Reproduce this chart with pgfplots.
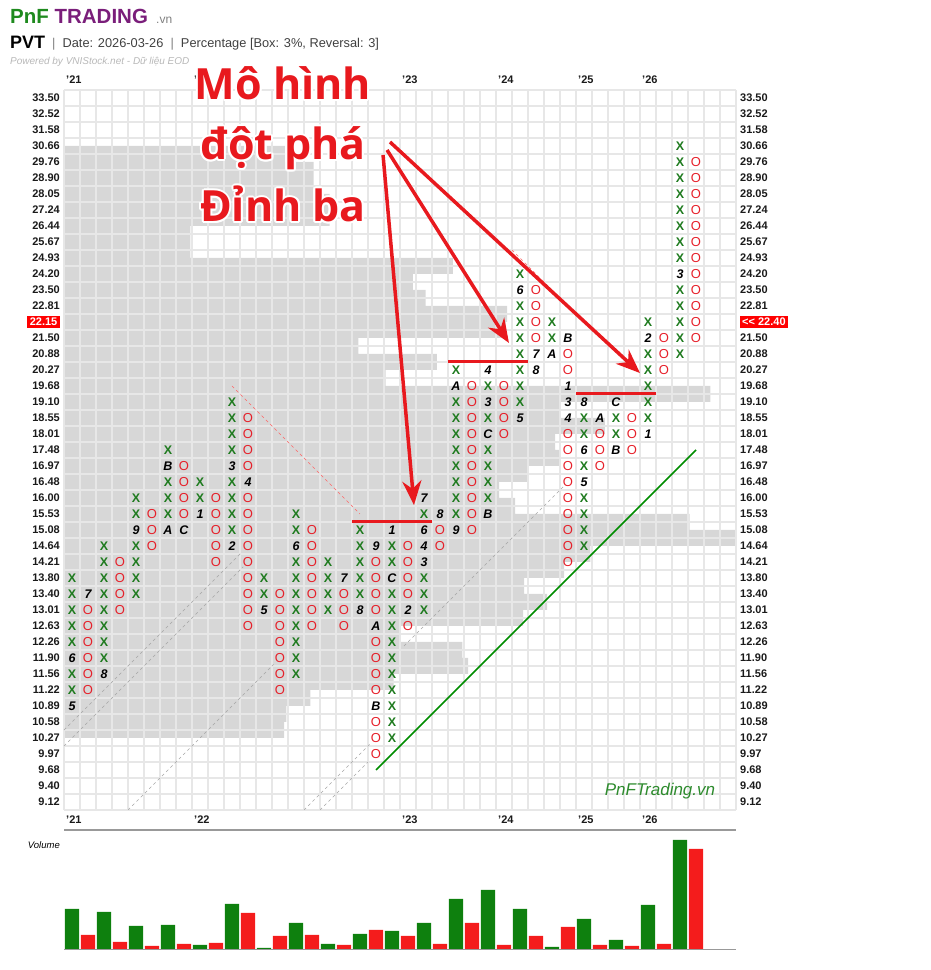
\documentclass[border=0pt]{standalone}
\usepackage{pgfplots}
\pgfplotsset{compat=1.18}
\usepackage{fontspec}
\setmainfont{Liberation Sans}
\newfontfamily\bigfont{Open Sans}
\usetikzlibrary{arrows.meta}
\definecolor{xgreen}{HTML}{1E7A1E}
\definecolor{ored}{HTML}{E6202A}
\definecolor{bandgray}{HTML}{D7D7D7}
\definecolor{gridgray}{HTML}{E7E7E7}
\definecolor{vgreen}{HTML}{0E800E}
\definecolor{vred}{HTML}{F41C1C}
\definecolor{brandgreen}{HTML}{1E8A1E}
\definecolor{brandpurple}{HTML}{7A1E7A}
\definecolor{arrowred}{HTML}{E8191E}
\definecolor{labeltext}{HTML}{1A1A1A}
\definecolor{wmgreen}{HTML}{2E8B2E}
\newcommand\lbl{\bfseries\fontsize{11}{12}\selectfont}
\newcommand\bigline[2]{%
  \foreach \a in {0,30,...,330}{\node[anchor=base,text=white,font=\bigfont\bfseries\fontsize{43}{43}\selectfont,shift={(\a:2pt)}] at (283pt,#1) {#2};}%
  \node[anchor=base,text=arrowred,font=\bigfont\bfseries\fontsize{43}{43}\selectfont] at (283pt,#1) {#2};}
\pgfplotsset{pnfaxis/.style={
  at={(72pt,168pt)}, anchor=origin, scale only axis,
  width=672pt, height=720pt,
  xmin=-0.5, xmax=41.5, ymin=-0.5, ymax=44.5}}
\begin{document}
\begin{tikzpicture}
\path[use as bounding box] (0pt,0pt) rectangle (930pt,970pt);
% header
\node[anchor=base west,inner sep=0pt,font=\bfseries\fontsize{20.5}{22}\selectfont] at (10pt,946pt) {\textcolor{brandgreen}{PnF} \textcolor{brandpurple}{TRADING}};
\node[anchor=base west,inner sep=0pt,font=\fontsize{12}{13}\selectfont,text=gray] at (156pt,946pt) {.vn};
\node[anchor=base west,inner sep=0pt,font=\bfseries\fontsize{18}{20}\selectfont] at (10pt,921pt) {PVT};
\node[anchor=base west,inner sep=0pt,font=\fontsize{12.8}{14}\selectfont,text=black!75] at (52pt,922pt) {\textcolor{gray}{|}\ \ Date: 2026-03-26\ \ \textcolor{gray}{|}\ \ Percentage [Box: 3\%, Reversal: 3]};
\node[anchor=base west,inner sep=0pt,font=\itshape\fontsize{10}{12}\selectfont,text=black!28] at (10pt,905pt) {Powered by VNIStock.net - Dữ liệu EOD};

% volume-at-price band (background)
\begin{axis}[pnfaxis, axis lines=none, xtick=\empty, ytick=\empty]
\addplot[fill=bandgray, draw=none] coordinates {
(-0.5,41)
(13.3,41)(13.3,40)
(15.1,40)(15.1,39)
(15.1,39)(15.1,38)
(16.1,38)(16.1,37)
(16.1,37)(16.1,36)
(7.4,36)(7.4,35)
(7.4,35)(7.4,34)
(23.8,34)(23.8,33)
(21.3,33)(21.3,32)
(22.1,32)(22.1,31)
(27.2,31)(27.2,30)
(27.1,30)(27.1,29)
(17.9,29)(17.9,28)
(22.8,28)(22.8,27)
(19.6,27)(19.6,26)
(39.9,26)(39.9,25)
(30.5,25)(30.5,24)
(33.3,24)(33.3,23)
(30.2,23)(30.2,22)
(30.5,22)(30.5,21)
(28.5,21)(28.5,20)
(26.7,20)(26.7,19)
(27.7,19)(27.7,18)
(38.6,18)(38.6,17)
(41.5,17)(41.5,16)
(32.4,16)(32.4,15)
(30.75,15)(30.75,14)
(28.25,14)(28.25,13)
(29.7,13)(29.7,12)
(28.2,12)(28.2,11)
(20.5,11)(20.5,10)
(24.4,10)(24.4,9)
(24.75,9)(24.75,8)
(20.1,8)(20.1,7)
(14.9,7)(14.9,6)
(13.4,6)(13.4,5)
(13.25,5)(13.25,4)
(-0.5,4)(-0.5,41)};
\end{axis}

% right labels and top years
\begin{axis}[pnfaxis,
  axis line style={draw=none}, major tick length=0pt,
  xtick={-0.5,7.5,20.5,26.5,31.5,35.5},
  xticklabels={{\char"27}21,{\char"27}22,{\char"27}23,{\char"27}24,{\char"27}25,{\char"27}26},
  xticklabel pos=upper,
  xticklabel style={anchor=south west, font=\lbl, text=labeltext, inner sep=2pt, yshift=4pt},
  ytick={0,...,44},
  yticklabels={9.12,9.40,9.68,9.97,10.27,10.58,10.89,11.22,11.56,11.90,12.26,12.63,13.01,13.40,13.80,14.21,14.64,15.08,15.53,16.00,16.48,16.97,17.48,18.01,18.55,19.10,19.68,20.27,20.88,21.50,{\setlength{\fboxsep}{2pt}\colorbox{red}{\textcolor{white}{{<}{<} 22.40}}},22.81,23.50,24.20,24.93,25.67,26.44,27.24,28.05,28.90,29.76,30.66,31.58,32.52,33.50},
  yticklabel pos=right,
  yticklabel style={anchor=west, font=\lbl, text=labeltext, inner sep=1pt, xshift=3pt},
]
\addplot[draw=none] coordinates {(0,0)(1,1)};
\end{axis}

\begin{axis}[pnfaxis,
  axis line style={draw=none},
  major tick length=0pt, minor tick length=0pt,
  xtick={-0.5,7.5,20.5,26.5,31.5,35.5},
  xticklabels={{\char"27}21,{\char"27}22,{\char"27}23,{\char"27}24,{\char"27}25,{\char"27}26},
  xticklabel style={anchor=north west, font=\lbl, text=labeltext, inner sep=2pt, yshift=-4pt},
  minor xtick={-0.5,0.5,...,41.5},
  minor ytick={-0.5,0.5,...,44.5},
  xminorgrids=true, yminorgrids=true, xmajorgrids=true,
  minor grid style={gridgray, line width=1.2pt},
  major grid style={gridgray, line width=1.2pt},
  ytick={0,...,44},
  yticklabels={9.12,9.40,9.68,9.97,10.27,10.58,10.89,11.22,11.56,11.90,12.26,12.63,13.01,13.40,13.80,14.21,14.64,15.08,15.53,16.00,16.48,16.97,17.48,18.01,18.55,19.10,19.68,20.27,20.88,21.50,{\setlength{\fboxsep}{2.5pt}\colorbox{red}{\textcolor{white}{22.15}}},22.81,23.50,24.20,24.93,25.67,26.44,27.24,28.05,28.90,29.76,30.66,31.58,32.52,33.50},
  yticklabel style={anchor=east, font=\lbl, text=labeltext, inner sep=1pt, xshift=-3pt},
]
% dashed trend lines
\addplot[gray!70, line width=0.6pt, dash pattern=on 3pt off 3pt] coordinates {(-0.5,4.5)(10.5,15.5)};
\addplot[gray!70, line width=0.6pt, dash pattern=on 3pt off 3pt] coordinates {(-0.5,3.5)(10.7,14.7)};
\addplot[gray!70, line width=0.6pt, dash pattern=on 3pt off 3pt] coordinates {(3.5,-0.5)(12.6,8.6)};
\addplot[gray!70, line width=0.6pt, dash pattern=on 3pt off 3pt] coordinates {(14.5,-0.5)(18.6,3.6)};
\addplot[gray!70, line width=0.6pt, dash pattern=on 3pt off 3pt] coordinates {(15.5,-0.5)(18.5,2.5)};
\addplot[gray!70, line width=0.6pt, dash pattern=on 3pt off 3pt] coordinates {(20.75,9.75)(30.75,19.75)};
\addplot[red!60, line width=0.6pt, dash pattern=on 3pt off 3pt] coordinates {(10,26)(18,18)};
\addplot[red!60, line width=0.6pt, dash pattern=on 3pt off 3pt] coordinates {(27.5,34.5)(30,32)};

% X columns
\addplot[draw=none, mark=none, nodes near coords={X},
  every node near coord/.append style={anchor=center, inner sep=0pt, text=xgreen, font=\bfseries\fontsize{12.5}{12.5}\selectfont}]
 coordinates {
 (0,7)(0,8)(0,10)(0,11)(0,12)(0,13)(0,14)
 (2,9)(2,10)(2,11)(2,12)(2,13)(2,14)(2,15)(2,16)
 (4,13)(4,14)(4,15)(4,16)(4,18)(4,19)
 (6,18)(6,19)(6,20)(6,22)
 (8,19)(8,20)
 (10,17)(10,18)(10,19)(10,20)(10,22)(10,23)(10,24)(10,25)
 (12,13)(12,14)
 (14,8)(14,9)(14,10)(14,11)(14,12)(14,13)(14,14)(14,15)(14,17)(14,18)
 (16,12)(16,13)(16,14)(16,15)
 (18,13)(18,14)(18,15)(18,16)(18,17)
 (20,4)(20,5)(20,6)(20,7)(20,8)(20,9)(20,10)(20,11)(20,12)(20,13)(20,15)(20,16)
 (22,12)(22,13)(22,14)(22,18)
 (24,18)(24,19)(24,20)(24,21)(24,22)(24,23)(24,24)(24,25)(24,27)
 (26,19)(26,20)(26,21)(26,22)(26,24)(26,26)
 (28,25)(28,26)(28,27)(28,28)(28,29)(28,30)(28,31)(28,33)
 (30,29)(30,30)
 (32,16)(32,17)(32,18)(32,19)(32,21)(32,23)(32,24)
 (34,23)(34,24)
 (36,24)(36,25)(36,26)(36,27)(36,28)(36,30)
 (38,28)(38,29)(38,30)(38,31)(38,32)(38,34)(38,35)(38,36)(38,37)(38,38)(38,39)(38,40)(38,41)
 };

% O columns
\addplot[draw=none, mark=none, nodes near coords={O},
  every node near coord/.append style={anchor=center, inner sep=0pt, text=ored, font=\fontsize{13}{13}\selectfont}]
 coordinates {
 (1,7)(1,8)(1,9)(1,10)(1,11)(1,12)
 (3,12)(3,13)(3,14)(3,15)
 (5,16)(5,17)(5,18)
 (7,18)(7,19)(7,20)(7,21)
 (9,15)(9,16)(9,17)(9,18)(9,19)
 (11,11)(11,12)(11,13)(11,14)(11,15)(11,16)(11,17)(11,18)(11,19)(11,21)(11,22)(11,23)(11,24)
 (13,7)(13,8)(13,9)(13,10)(13,11)(13,12)(13,13)
 (15,11)(15,12)(15,13)(15,14)(15,15)(15,16)(15,17)
 (17,11)(17,12)(17,13)
 (19,3)(19,4)(19,5)(19,7)(19,8)(19,9)(19,10)(19,12)(19,13)(19,14)(19,15)
 (21,11)(21,13)(21,14)(21,15)(21,16)
 (23,16)(23,17)
 (25,17)(25,18)(25,19)(25,20)(25,21)(25,22)(25,23)(25,24)(25,25)(25,26)
 (27,23)(27,24)(27,25)(27,26)
 (29,29)(29,30)(29,31)(29,32)
 (31,15)(31,16)(31,17)(31,18)(31,19)(31,20)(31,21)(31,22)(31,23)(31,27)(31,28)
 (33,21)(33,22)(33,23)
 (35,22)(35,23)(35,24)
 (37,27)(37,28)(37,29)
 (39,29)(39,30)(39,31)(39,32)(39,33)(39,34)(39,35)(39,36)(39,37)(39,38)(39,39)(39,40)
 };

% month markers
\addplot[draw=none, mark=none, point meta=explicit symbolic, nodes near coords,
  every node near coord/.append style={anchor=center, inner sep=0pt, text=black, font=\bfseries\itshape\fontsize{12.5}{12.5}\selectfont}]
 table[meta=l] {
x y l
0 6 5
0 9 6
1 13 7
2 8 8
4 17 9
6 17 A
6 21 B
7 17 C
8 18 1
10 16 2
10 21 3
11 20 4
12 12 5
14 16 6
17 14 7
18 12 8
19 16 9
19 11 A
19 6 B
20 14 C
20 17 1
21 12 2
22 15 3
22 16 4
22 17 6
22 19 7
23 18 8
24 17 9
24 26 A
26 18 B
26 23 C
26 25 3
26 27 4
28 24 5
28 32 6
29 28 7
29 27 8
30 28 A
31 29 B
31 26 1
31 25 3
31 24 4
32 20 5
32 22 6
32 25 8
33 24 A
34 22 B
34 25 C
36 23 1
36 29 2
38 33 3
 };

% resistance lines and trend line
\addplot[arrowred, line width=3pt] coordinates {(17.5,17.5)(22.5,17.5)};
\addplot[arrowred, line width=3pt] coordinates {(23.5,27.5)(28.5,27.5)};
\addplot[arrowred, line width=3pt] coordinates {(31.5,25.5)(36.5,25.5)};
\addplot[green!55!black, line width=1.6pt] coordinates {(19,2)(39,22)};

% arrows
\addplot[arrowred, line width=3.5pt, -{Stealth[length=24pt,width=19pt]}] coordinates {(19.44,40.44)(21.375,18.56)};
\addplot[arrowred, line width=3.5pt, -{Stealth[length=24pt,width=19pt]}] coordinates {(19.69,40.75)(27.31,28.69)};
\addplot[arrowred, line width=3.5pt, -{Stealth[length=24pt,width=19pt]}] coordinates {(19.875,41.25)(35.5,26.81)};
\end{axis}

% volume panel
\begin{axis}[
  at={(72pt,20pt)}, anchor=origin, scale only axis,
  width=672pt, height=120pt,
  xmin=-0.5, xmax=41.5, ymin=0, ymax=120,
  axis lines=none, xtick=\empty, ytick=\empty, ybar, bar width=0.88,
]
\addplot[fill=vgreen, draw=none, bar shift=0pt] coordinates {
(0,41)(2,38)(4,24)(6,25)(8,5)(10,46)(12,2)(14,27)(16,6)(18,16)(20,19)(22,27)(24,51)(26,60)(28,41)(30,3)(32,31)(34,10)(36,45)(38,110)};
\addplot[fill=vred, draw=none, bar shift=0pt] coordinates {
(1,15)(3,8)(5,4)(7,6)(9,7)(11,37)(13,14)(15,15)(17,5)(19,20)(21,14)(23,6)(25,27)(27,5)(29,14)(31,23)(33,5)(35,4)(37,6)(39,101)};
\draw[gray!80, line width=2pt] (rel axis cs:0,0) -- (rel axis cs:1,0);
\draw[gray!80, line width=2pt] (rel axis cs:0,1) -- (rel axis cs:1,1);
\end{axis}
\node[anchor=east,inner sep=0pt,font=\itshape\fontsize{9.5}{11}\selectfont] at (60pt,125pt) {Volume};

% big annotation text
\bigline{870pt}{Mô hình}
\bigline{810pt}{đột phá}
\bigline{748pt}{Đỉnh ba}
\node[font=\itshape\fontsize{17}{19}\selectfont,text=wmgreen] at (660pt,179pt) {PnFTrading.vn};
\end{tikzpicture}
\end{document}
